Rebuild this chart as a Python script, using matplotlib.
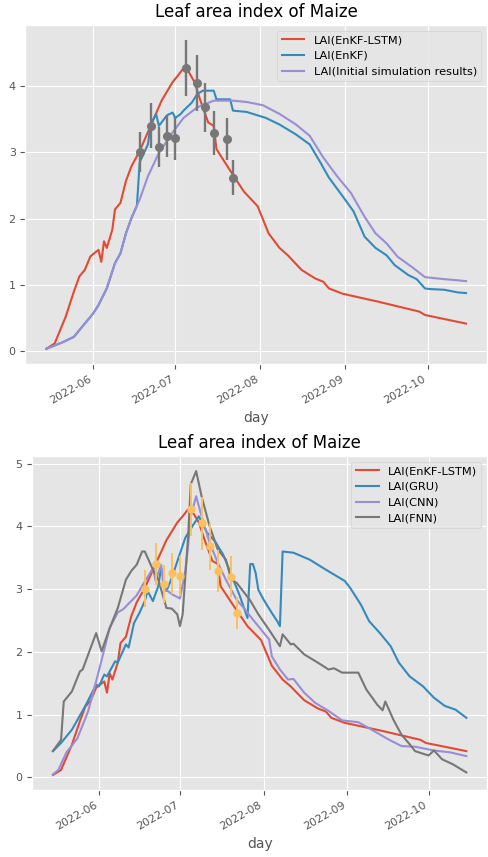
import matplotlib
matplotlib.use('Agg')
import matplotlib.pyplot as plt
import matplotlib.dates as mdates
import pandas as pd

plt.style.use('ggplot')

# EnKF-LSTM assimilation (same curve in both panels)
lstm_days = ['05-15', '05-18', '05-22', '05-25', '05-27', '05-29', '05-31', '06-02', '06-03',
             '06-04', '06-05', '06-06', '06-08', '06-09', '06-11', '06-13', '06-15', '06-18',
             '06-22', '06-26', '06-30', '07-02', '07-04', '07-05', '07-08', '07-10', '07-13',
             '07-15', '07-16', '07-20', '07-26', '07-31', '08-04', '08-08', '08-11', '08-16',
             '08-21', '08-24', '08-26', '08-31', '09-13', '09-28', '09-30', '10-15']
lstm_lai = [0.04, 0.12, 0.52, 0.90, 1.13, 1.23, 1.43, 1.50, 1.53,
            1.35, 1.66, 1.56, 1.83, 2.14, 2.24, 2.57, 2.79, 3.02,
            3.40, 3.78, 4.06, 4.16, 4.27, 4.28, 4.06, 3.80, 3.45,
            3.40, 3.05, 2.79, 2.41, 2.19, 1.78, 1.56, 1.45, 1.23,
            1.10, 1.05, 0.95, 0.87, 0.75, 0.60, 0.55, 0.42]

# EnKF
enkf_days = ['05-15', '05-21', '05-25', '05-28', '06-01', '06-03', '06-06', '06-09', '06-11',
             '06-13', '06-15', '06-17', '06-18', '06-21', '06-22', '06-24', '06-25', '06-28',
             '06-30', '07-01', '07-03', '07-04', '07-07', '07-09', '07-11', '07-15', '07-16',
             '07-21', '07-22', '07-27', '08-03', '08-08', '08-14', '08-19', '08-23', '08-26',
             '08-31', '09-04', '09-08', '09-12', '09-16', '09-19', '09-24', '09-27', '09-30',
             '10-02', '10-07', '10-12', '10-15']
enkf_lai = [0.04, 0.14, 0.22, 0.37, 0.57, 0.70, 0.95, 1.33, 1.48,
            1.78, 2.01, 2.20, 2.85, 3.12, 3.42, 3.58, 3.40, 3.56,
            3.60, 3.52, 3.58, 3.63, 3.75, 3.88, 3.93, 3.93, 3.80,
            3.80, 3.63, 3.61, 3.52, 3.42, 3.27, 3.12, 2.84, 2.62,
            2.34, 2.11, 1.73, 1.56, 1.45, 1.30, 1.15, 1.09, 0.95,
            0.94, 0.93, 0.89, 0.88]

# initial simulation
init_days = ['05-15', '05-21', '05-25', '05-28', '06-01', '06-03', '06-06', '06-09', '06-11',
             '06-13', '06-15', '06-18', '06-21', '06-25', '06-30', '07-04', '07-09', '07-15',
             '07-22', '07-27', '08-02', '08-08', '08-14', '08-19', '08-24', '08-29', '09-03',
             '09-08', '09-12', '09-16', '09-20', '09-26', '09-30', '10-07', '10-10', '10-15']
init_lai = [0.04, 0.14, 0.22, 0.37, 0.57, 0.70, 0.95, 1.33, 1.48,
            1.78, 2.01, 2.29, 2.64, 2.99, 3.30, 3.52, 3.68, 3.78,
            3.78, 3.76, 3.71, 3.58, 3.42, 3.25, 2.92, 2.64, 2.39,
            2.03, 1.78, 1.63, 1.43, 1.25, 1.12, 1.09, 1.08, 1.06]

# GRU
gru_days = ['05-15', '05-18', '05-22', '05-27', '05-31', '06-01', '06-03', '06-04', '06-07',
            '06-08', '06-11', '06-12', '06-14', '06-16', '06-18', '06-19', '06-21', '06-23',
            '06-24', '06-26', '06-28', '06-30', '07-03', '07-06', '07-08', '07-11', '07-14',
            '07-17', '07-20', '07-23', '07-26', '07-27', '07-28', '07-29', '07-30', '08-01',
            '08-04', '08-06', '08-07', '08-08', '08-12', '08-18', '08-24', '08-31', '09-02',
            '09-06', '09-09', '09-13', '09-17', '09-20', '09-24', '09-29', '10-03', '10-07',
            '10-11', '10-15']
gru_lai = [0.42, 0.55, 0.76, 1.14, 1.48, 1.45, 1.64, 1.61, 1.85,
           1.83, 2.12, 2.07, 2.46, 2.62, 2.81, 2.97, 2.81, 3.05,
           3.34, 2.97, 3.18, 3.44, 3.82, 4.03, 4.16, 3.90, 3.76,
           3.55, 3.23, 2.91, 2.54, 3.40, 3.40, 3.26, 2.99, 2.83,
           2.62, 2.49, 2.41, 3.60, 3.58, 3.47, 3.31, 3.13, 3.02,
           2.75, 2.49, 2.30, 2.09, 1.83, 1.61, 1.45, 1.27, 1.14,
           1.08, 0.95]

# CNN
cnn_days = ['05-15', '05-17', '05-20', '05-24', '05-28', '06-01', '06-05', '06-08', '06-10',
            '06-15', '06-17', '06-21', '06-22', '06-24', '06-25', '06-28', '07-01', '07-03',
            '07-04', '07-05', '07-07', '07-09', '07-12', '07-15', '07-18', '07-22', '07-25',
            '07-27', '07-30', '08-02', '08-03', '08-04', '08-07', '08-10', '08-12', '08-16',
            '08-20', '08-25', '08-30', '09-05', '09-10', '09-16', '09-21', '09-26', '10-03',
            '10-09', '10-15']
cnn_lai = [0.05, 0.12, 0.40, 0.62, 1.05, 1.70, 2.38, 2.63, 2.68,
           2.90, 3.05, 3.33, 3.13, 3.39, 3.02, 2.92, 2.85, 3.30,
           3.68, 4.16, 4.48, 4.16, 3.74, 3.42, 3.15, 2.83, 2.68,
           2.57, 2.41, 2.25, 2.20, 1.93, 1.72, 1.56, 1.57, 1.35,
           1.19, 1.06, 0.91, 0.88, 0.76, 0.61, 0.50, 0.49, 0.43,
           0.40, 0.34]

# FNN
fnn_days = ['05-15', '05-18', '05-19', '05-22', '05-25', '05-26', '05-29', '05-31', '06-02',
            '06-05', '06-08', '06-11', '06-13', '06-15', '06-17', '06-18', '06-21', '06-23',
            '06-26', '06-28', '06-30', '07-01', '07-02', '07-04', '07-05', '07-07', '07-09',
            '07-12', '07-15', '07-18', '07-20', '07-22', '07-27', '07-30', '08-03', '08-07',
            '08-08', '08-11', '08-12', '08-16', '08-21', '08-25', '08-27', '08-30', '09-05',
            '09-08', '09-12', '09-14', '09-15', '09-18', '09-21', '09-24', '09-26', '10-01',
            '10-03', '10-06', '10-10', '10-15']
fnn_lai = [0.42, 0.60, 1.21, 1.37, 1.69, 1.72, 2.07, 2.30, 2.01,
           2.38, 2.70, 3.15, 3.29, 3.39, 3.60, 3.60, 3.31, 3.15,
           2.70, 2.69, 2.60, 2.41, 2.60, 3.82, 4.67, 4.88, 4.48,
           4.00, 3.63, 3.47, 3.15, 3.10, 2.82, 2.60, 2.35, 2.09,
           2.28, 2.12, 2.13, 1.96, 1.83, 1.72, 1.74, 1.67, 1.67,
           1.40, 1.16, 1.07, 1.21, 0.92, 0.68, 0.53, 0.42, 0.35,
           0.43, 0.29, 0.21, 0.08]

# field observations
obs_days = ['06-18', '06-22', '06-25', '06-28', '07-01', '07-05', '07-09', '07-12', '07-15',
            '07-20', '07-22']
obs_lai = [3.01, 3.40, 3.08, 3.25, 3.21, 4.27, 4.05, 3.68, 3.29, 3.20, 2.62]
obs_err = [0.30, 0.34, 0.30, 0.32, 0.32, 0.42, 0.42, 0.37, 0.33, 0.32, 0.26]


def to_dates(days):
    return pd.to_datetime(['2022-' + d for d in days])


def style_axes(ax):
    ax.set_title('Leaf area index of Maize', fontsize=12)
    ax.set_xlabel('day', fontsize=10)
    ax.xaxis.set_major_locator(mdates.MonthLocator())
    ax.xaxis.set_major_formatter(mdates.DateFormatter('%Y-%m'))
    ax.tick_params(axis='both', labelsize=8)
    for lbl in ax.get_xticklabels():
        lbl.set_rotation(30)
        lbl.set_ha('right')


fig = plt.figure(figsize=(4.89, 8.57), dpi=100)

# top panel
ax1 = fig.add_axes([0.052, 0.575, 0.944, 0.396])
ax1.plot(to_dates(lstm_days), lstm_lai, label='LAI(EnKF-LSTM)', lw=1.5)
ax1.plot(to_dates(enkf_days), enkf_lai, label='LAI(EnKF)', lw=1.5)
ax1.plot(to_dates(init_days), init_lai, label='LAI(Initial simulation results)', lw=1.5)
ax1.errorbar(to_dates(obs_days), obs_lai, yerr=obs_err, fmt='o', ms=5.5, elinewidth=1.7)
ax1.legend(loc='upper right', fontsize=8.2)
style_axes(ax1)

# bottom panel
ax2 = fig.add_axes([0.066, 0.078, 0.930, 0.390])
ax2.plot(to_dates(lstm_days), lstm_lai, label='LAI(EnKF-LSTM)', lw=1.5)
ax2.plot(to_dates(gru_days), gru_lai, label='LAI(GRU)', lw=1.5)
ax2.plot(to_dates(cnn_days), cnn_lai, label='LAI(CNN)', lw=1.5)
ax2.plot(to_dates(fnn_days), fnn_lai, label='LAI(FNN)', lw=1.5)
ax2.errorbar(to_dates(obs_days), obs_lai, yerr=obs_err, fmt='o', ms=5, elinewidth=1.4)
ax2.legend(loc='upper right', fontsize=8.2)
style_axes(ax2)

fig.savefig('out.png', dpi=100)
